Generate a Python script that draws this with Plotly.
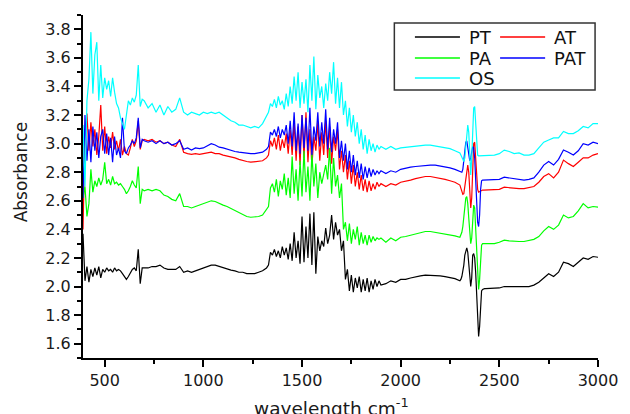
import plotly.graph_objects as go

# ---- wavenumber sampling grid (cm-1), by segment ----
x_a = [390, 400, 410, 420, 430, 440, 450, 460, 470, 480, 490, 500, 510, 520, 530, 540,
       550, 560, 570, 580, 590, 600, 610, 620, 630, 640, 650, 660, 670, 680, 690, 700]
x_b = [720, 740, 760, 780, 800, 820, 840, 860, 880, 900, 920, 940, 960, 980, 1000, 1020,
       1040, 1060, 1080, 1100, 1120, 1140, 1160, 1180, 1200, 1220, 1240, 1260, 1280, 1300, 1320]
x_c = [1330, 1340, 1350, 1360, 1370, 1380, 1390, 1400, 1410, 1420,
       1430, 1440, 1450, 1460, 1470, 1480, 1490, 1500, 1510, 1520,
       1530, 1540, 1550, 1560, 1570, 1580, 1590, 1600, 1610, 1620,
       1630, 1640, 1650, 1660, 1670, 1680, 1690, 1700, 1710, 1720,
       1730, 1740, 1750, 1760, 1770, 1780, 1790, 1800, 1810, 1820,
       1830, 1840, 1850, 1860, 1870, 1880, 1890, 1900]
x_d = [1925, 1950, 1975, 2000, 2025, 2050, 2075, 2100, 2125, 2150, 2175, 2200, 2225, 2250, 2275, 2300]
x_e = [2305, 2310, 2315, 2320, 2325, 2330, 2335, 2340, 2345, 2350, 2355, 2360, 2365,
       2370, 2375, 2380, 2385, 2390, 2395, 2400, 2405, 2410, 2415, 2420, 2425, 2430]
x_f = [2450, 2475, 2500, 2525, 2550, 2575, 2600, 2625, 2650, 2675, 2700, 2725, 2750, 2775,
       2800, 2825, 2850, 2875, 2900, 2925, 2950, 2975, 3000]
wavenumber = x_a + x_b + x_c + x_d + x_e + x_f

# ---- PT (black) ----
pt_a = [2.37, 2.04, 2.14, 2.03, 2.12, 2.07, 2.13, 2.08, 2.14, 2.06, 2.12, 2.10, 2.13, 2.11, 2.12, 2.10,
        2.13, 2.11, 2.12, 2.11, 2.09, 2.07, 2.05, 2.07, 2.10, 2.12, 2.13, 2.11, 2.26, 2.02, 2.13, 2.13]
pt_b = [2.13, 2.14, 2.14, 2.15, 2.13, 2.12, 2.12, 2.12, 2.14, 2.10, 2.11, 2.10, 2.11, 2.12, 2.13, 2.14,
        2.15, 2.15, 2.14, 2.13, 2.12, 2.115, 2.11, 2.10, 2.10, 2.09, 2.09, 2.09, 2.10, 2.11, 2.13]
pt_c = [2.15, 2.24, 2.22, 2.26, 2.21, 2.25, 2.20, 2.28, 2.22, 2.27,
        2.19, 2.30, 2.18, 2.38, 2.20, 2.32, 2.16, 2.49, 2.17, 2.42,
        2.20, 2.51, 2.15, 2.52, 2.09, 2.35, 2.25, 2.32, 2.28, 2.41,
        2.30, 2.36, 2.50, 2.33, 2.45, 2.36, 2.40, 2.25, 2.32, 2.05,
        2.12, 1.97, 2.08, 1.96, 2.06, 1.99, 2.07, 1.96, 2.05, 1.97,
        2.06, 1.96, 2.04, 1.98, 2.05, 2.00, 2.04, 2.01]
pt_d = [2.02, 2.04, 2.03, 2.05, 2.05, 2.06, 2.07, 2.075, 2.08, 2.08, 2.08, 2.075, 2.07, 2.065, 2.055, 2.04]
pt_e = [2.05, 2.07, 2.10, 2.15, 2.22, 2.26, 2.27, 2.24, 2.17, 2.10, 2.00, 2.06, 2.22,
        2.23, 2.20, 2.10, 1.90, 1.70, 1.65, 1.72, 1.90, 1.97, 1.98, 1.985, 1.985, 1.985]
pt_f = [1.985, 1.985, 1.99, 2.00, 2.00, 1.995, 1.995, 1.995, 2.00, 2.01, 2.03, 2.06, 2.09, 2.07,
        2.10, 2.17, 2.16, 2.14, 2.17, 2.20, 2.19, 2.21, 2.205]
pt = pt_a + pt_b + pt_c + pt_d + pt_e + pt_f

# ---- AT (red) ----
at_a = [2.40, 3.05, 3.21, 2.95, 3.15, 2.98, 3.10, 2.92, 3.05, 3.27, 2.95, 3.12, 2.93, 3.05, 2.97, 3.08,
        2.96, 3.02, 2.95, 3.03, 2.92, 2.98, 2.93, 2.92, 2.97, 3.03, 2.98, 3.02, 3.16, 2.96, 3.02, 3.03]
at_b = [3.02, 3.03, 3.01, 3.02, 3.00, 3.01, 2.99, 2.98, 3.03, 2.94, 2.93, 2.925, 2.93, 2.925, 2.93, 2.935,
        2.94, 2.93, 2.93, 2.92, 2.915, 2.905, 2.90, 2.89, 2.88, 2.875, 2.87, 2.875, 2.88, 2.88, 2.90]
at_c = [2.92, 3.02, 2.98, 3.04, 2.96, 3.06, 2.95, 3.03, 2.97, 3.07,
        2.93, 3.10, 2.92, 3.15, 2.88, 3.12, 2.85, 3.20, 2.90, 3.22,
        2.87, 3.10, 2.84, 3.05, 2.95, 3.15, 2.88, 3.08, 2.92, 3.16,
        2.90, 3.12, 2.86, 3.05, 2.95, 3.10, 2.82, 2.95, 2.80, 2.92,
        2.75, 2.88, 2.72, 2.85, 2.70, 2.80, 2.68, 2.78, 2.67, 2.75,
        2.66, 2.74, 2.67, 2.72, 2.68, 2.73, 2.70, 2.72]
at_d = [2.70, 2.72, 2.71, 2.73, 2.735, 2.745, 2.755, 2.765, 2.77, 2.77, 2.765, 2.76, 2.75, 2.74, 2.73, 2.71]
at_e = [2.69, 2.66, 2.645, 2.65, 2.70, 2.78, 2.83, 2.85, 2.80, 2.65, 2.55, 2.62, 2.85,
        3.00, 3.01, 2.90, 2.75, 2.68, 2.66, 2.665, 2.67, 2.675, 2.675, 2.675, 2.675, 2.675]
at_f = [2.675, 2.675, 2.68, 2.695, 2.69, 2.685, 2.685, 2.685, 2.69, 2.70, 2.73, 2.77, 2.79, 2.76,
        2.80, 2.885, 2.86, 2.84, 2.87, 2.90, 2.90, 2.92, 2.93]
at = at_a + at_b + at_c + at_d + at_e + at_f

# ---- PA (green) ----
pa_a = [2.62, 2.70, 2.49, 2.58, 2.82, 2.66, 2.74, 2.70, 2.76, 2.71, 2.75, 2.87, 2.72, 2.75, 2.71, 2.77,
        2.72, 2.73, 2.71, 2.72, 2.70, 2.68, 2.65, 2.67, 2.70, 2.74, 2.71, 2.69, 2.84, 2.58, 2.68, 2.67]
pa_b = [2.68, 2.67, 2.68, 2.67, 2.64, 2.63, 2.61, 2.60, 2.65, 2.56, 2.56, 2.55, 2.56, 2.57, 2.58, 2.59,
        2.60, 2.595, 2.58, 2.57, 2.56, 2.545, 2.53, 2.515, 2.50, 2.49, 2.485, 2.485, 2.49, 2.50, 2.54]
pa_c = [2.56, 2.69, 2.72, 2.66, 2.75, 2.63, 2.74, 2.68, 2.79, 2.64,
        2.76, 2.62, 2.91, 2.65, 2.82, 2.60, 2.88, 2.63, 2.95, 2.66,
        2.84, 2.60, 2.93, 2.70, 2.86, 2.62, 2.80, 2.72, 2.78, 2.85,
        2.75, 2.97, 2.65, 2.90, 2.70, 2.78, 2.62, 2.72, 2.40, 2.45,
        2.32, 2.44, 2.30, 2.40, 2.33, 2.42, 2.29, 2.38, 2.30, 2.36,
        2.29, 2.36, 2.31, 2.35, 2.32, 2.34, 2.33, 2.34]
pa_d = [2.31, 2.34, 2.32, 2.345, 2.35, 2.36, 2.37, 2.38, 2.385, 2.385, 2.38, 2.375, 2.37, 2.36, 2.355, 2.345]
pa_e = [2.36, 2.38, 2.42, 2.48, 2.56, 2.62, 2.63, 2.58, 2.48, 2.38, 2.30, 2.34, 2.50,
        2.57, 2.55, 2.40, 2.20, 2.02, 1.98, 2.05, 2.22, 2.29, 2.30, 2.30, 2.30, 2.30]
pa_f = [2.30, 2.30, 2.31, 2.325, 2.32, 2.315, 2.315, 2.315, 2.32, 2.33, 2.35, 2.39, 2.42, 2.40,
        2.43, 2.50, 2.48, 2.49, 2.53, 2.58, 2.55, 2.56, 2.555]
pa = pa_a + pa_b + pa_c + pa_d + pa_e + pa_f

# ---- PAT (blue) ----
pat_a = [2.62, 3.20, 2.88, 3.10, 2.87, 3.12, 2.95, 3.08, 2.90, 3.05, 3.10, 2.93, 3.07, 2.92, 3.04, 2.87,
         3.05, 2.92, 2.97, 2.90, 3.18, 2.95, 2.93, 2.97, 2.99, 3.02, 3.00, 3.04, 3.18, 2.97, 3.03, 3.02]
pat_b = [3.01, 3.02, 3.00, 3.02, 3.00, 3.01, 2.99, 3.00, 3.02, 2.96, 2.97, 2.955, 2.97, 2.965, 2.97, 2.985,
         3.00, 2.99, 2.975, 2.97, 2.96, 2.955, 2.945, 2.94, 2.935, 2.93, 2.93, 2.93, 2.935, 2.94, 2.96]
pat_c = [2.98, 3.08, 3.06, 3.10, 3.05, 3.12, 3.04, 3.10, 3.06, 3.13,
         3.00, 3.16, 2.98, 3.22, 2.95, 3.14, 2.93, 3.20, 2.97, 3.18,
         2.95, 3.25, 2.92, 3.12, 3.02, 3.22, 2.98, 3.15, 3.00, 3.24,
         2.96, 3.18, 2.94, 3.10, 3.00, 3.15, 2.90, 3.02, 2.88, 3.00,
         2.82, 2.95, 2.80, 2.92, 2.78, 2.88, 2.76, 2.86, 2.75, 2.84,
         2.76, 2.83, 2.77, 2.82, 2.78, 2.81, 2.79, 2.81]
pat_d = [2.79, 2.81, 2.80, 2.82, 2.83, 2.835, 2.84, 2.845, 2.85, 2.85, 2.85, 2.845, 2.84, 2.83, 2.82, 2.805]
pat_e = [2.80, 2.80, 2.82, 2.88, 2.97, 3.01, 3.02, 2.98, 2.92, 2.88, 2.90, 2.95, 2.98,
         2.97, 2.90, 2.75, 2.58, 2.45, 2.42, 2.50, 2.68, 2.74, 2.745, 2.745, 2.745, 2.745]
pat_f = [2.745, 2.745, 2.75, 2.765, 2.76, 2.75, 2.75, 2.745, 2.75, 2.76, 2.80, 2.85, 2.875, 2.85,
         2.89, 2.955, 2.94, 2.92, 2.95, 3.00, 2.99, 3.01, 3.00]
pat = pat_a + pat_b + pat_c + pat_d + pat_e + pat_f

# ---- OS (cyan) ----
os_a = [3.13, 2.70, 3.30, 3.45, 3.78, 3.35, 3.62, 3.71, 3.30, 3.55, 3.32, 3.46, 3.38, 3.44, 3.33, 3.46,
        3.36, 3.28, 3.25, 3.18, 3.14, 3.10, 3.20, 3.30, 3.27, 3.32, 3.29, 3.34, 3.55, 3.26, 3.31, 3.30]
os_b = [3.25, 3.28, 3.22, 3.27, 3.20, 3.26, 3.22, 3.24, 3.32, 3.22, 3.20, 3.22, 3.21, 3.20, 3.22, 3.21,
        3.22, 3.21, 3.22, 3.20, 3.18, 3.16, 3.15, 3.13, 3.13, 3.12, 3.11, 3.12, 3.11, 3.14, 3.20]
os_c = [3.22, 3.28, 3.26, 3.31, 3.25, 3.33, 3.27, 3.30, 3.24, 3.35,
        3.26, 3.40, 3.28, 3.47, 3.30, 3.50, 3.25, 3.43, 3.28, 3.45,
        3.22, 3.55, 3.30, 3.61, 3.24, 3.48, 3.32, 3.40, 3.25, 3.42,
        3.30, 3.50, 3.35, 3.57, 3.28, 3.46, 3.25, 3.43, 3.20, 3.30,
        3.12, 3.25, 3.08, 3.20, 3.05, 3.15, 3.00, 3.10, 2.96, 3.06,
        2.93, 3.03, 2.95, 3.00, 2.94, 2.99, 2.96, 2.98]
os_d = [2.96, 2.98, 2.96, 2.97, 2.975, 2.98, 2.985, 2.99, 2.99, 2.99, 2.985, 2.98, 2.975, 2.965, 2.95, 2.935]
os_e = [2.92, 2.90, 2.88, 2.875, 2.90, 2.98, 3.08, 3.13, 3.08, 2.90, 2.78, 2.90, 3.15,
        3.25, 3.26, 3.15, 2.98, 2.92, 2.915, 2.915, 2.92, 2.92, 2.92, 2.92, 2.92, 2.92]
os_f = [2.92, 2.92, 2.93, 2.955, 2.945, 2.93, 2.935, 2.92, 2.92, 2.93, 2.97, 3.01, 3.025, 3.04,
        3.04, 3.085, 3.07, 3.07, 3.09, 3.12, 3.11, 3.14, 3.14]
os_ = os_a + os_b + os_c + os_d + os_e + os_f

series_names = ["PT", "AT", "PA", "PAT", "OS"]
series_values = [pt, at, pa, pat, os_]
series_colors = ["#000000", "#ff0000", "#00ff00", "#0000ff", "#00ffff"]

for v in series_values:
    assert len(v) == len(wavenumber), (len(v), len(wavenumber))

FONT = "DejaVu Sans"

# plot-area geometry (pixels) used only to place the hand-drawn legend box
W, H = 630, 414
ML, MR, MT, MB = 83, 21, 15, 56
PW, PH = W - ML - MR, H - MT - MB


def px_x(p):
    return (p - ML) / PW


def px_y(p):
    return (H - MB - p) / PH


fig = go.Figure()
for name, vals, col in zip(series_names, series_values, series_colors):
    fig.add_trace(go.Scatter(x=wavenumber, y=vals, mode="lines", name=name,
                             line=dict(color=col, width=1.2), showlegend=False))

axis_common = dict(showgrid=False, zeroline=False, showline=True, linecolor="black",
                   linewidth=2, ticks="outside", ticklen=7, tickwidth=1.5, tickcolor="black",
                   tickfont=dict(family=FONT, size=16, color="#1a1a1a"))

# legend layout: two columns (PT, PA, OS | AT, PAT)
legend_slots = {"PT": (422, 37), "PA": (422, 58), "OS": (422, 78),
                "AT": (509, 37), "PAT": (509, 58)}
shapes = [dict(type="rect", xref="paper", yref="paper", x0=px_x(401), x1=px_x(606),
               y0=px_y(90), y1=px_y(23), line=dict(color="#333", width=1.5))]
annotations = []
for name, col in zip(series_names, series_colors):
    lx, ly = legend_slots[name]
    shapes.append(dict(type="line", xref="paper", yref="paper", x0=px_x(lx), x1=px_x(lx + 46),
                       y0=px_y(ly), y1=px_y(ly), line=dict(color=col, width=1.5)))
    annotations.append(dict(text=name, xref="paper", yref="paper", x=px_x(lx + 53), y=px_y(ly),
                            xanchor="left", yanchor="middle", showarrow=False,
                            font=dict(family=FONT, size=18, color="#111")))

annotations += [
    dict(text="Absorbance", xref="paper", yref="paper", x=px_x(20), y=px_y(172),
         textangle=-90, showarrow=False, xanchor="center", yanchor="middle",
         font=dict(family=FONT, size=17, color="#1a1a1a")),
    dict(text="wavelength cm<sup>-1</sup>", xref="paper", yref="paper", x=px_x(337), y=px_y(407),
         showarrow=False, xanchor="center", yanchor="middle",
         font=dict(family=FONT, size=18.5, color="#1a1a1a")),
]

fig.update_layout(
    width=W, height=H,
    margin=dict(l=ML, r=MR, t=MT, b=MB),
    plot_bgcolor="white", paper_bgcolor="white",
    font=dict(family=FONT, color="#1a1a1a"),
    showlegend=False,
    xaxis=dict(range=[390, 3000], tick0=500, dtick=500,
               minor=dict(dtick=250, ticks="outside", ticklen=4, tickwidth=1.5, tickcolor="black"),
               **axis_common),
    yaxis=dict(range=[1.5, 3.9], tick0=1.6, dtick=0.2, tickformat=".1f",
               minor=dict(dtick=0.1, ticks="outside", ticklen=4, tickwidth=1.5, tickcolor="black"),
               **axis_common),
    shapes=shapes,
    annotations=annotations,
)

fig.write_html("out.html")
